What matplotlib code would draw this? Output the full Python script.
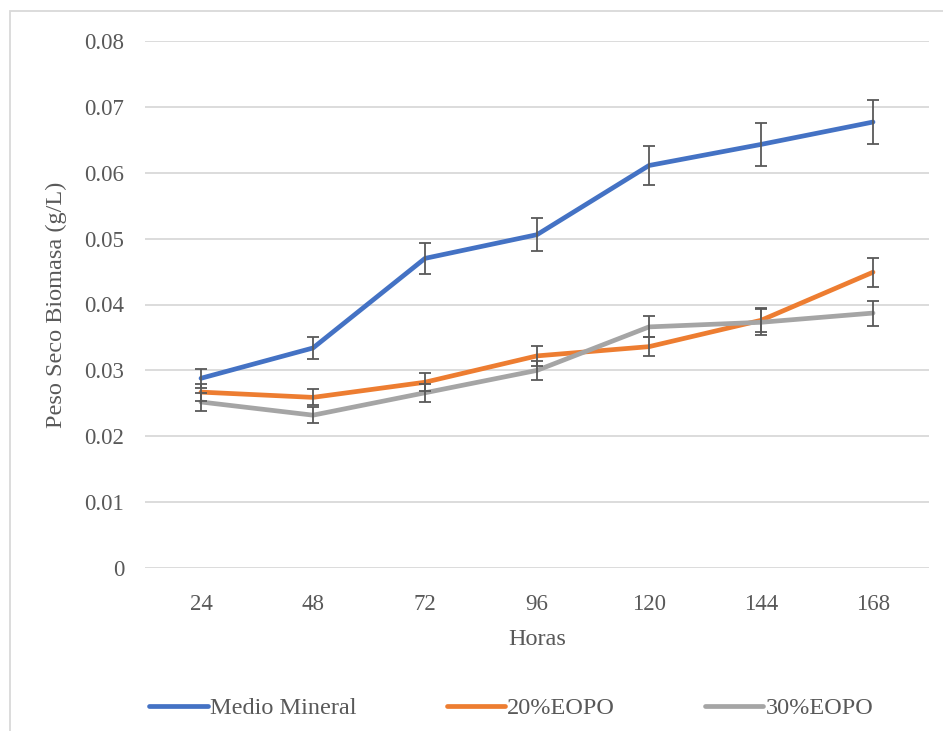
import matplotlib
matplotlib.use("Agg")
import matplotlib.pyplot as plt
from matplotlib.patches import Rectangle

plt.rcParams['font.family'] = ['Liberation Serif', 'DejaVu Serif']

horas = ["24", "48", "72", "96", "120", "144", "168"]

medio_mineral = [0.0288, 0.0334, 0.0470, 0.0506, 0.0611, 0.0643, 0.0677]
medio_mineral_err = [0.0014, 0.0016, 0.0023, 0.0025, 0.0030, 0.0033, 0.0033]

eopo20 = [0.0267, 0.0259, 0.0282, 0.0322, 0.0336, 0.0376, 0.0449]
eopo20_err = [0.0013, 0.0012, 0.0014, 0.0015, 0.0014, 0.0018, 0.0022]

eopo30 = [0.0252, 0.0232, 0.0266, 0.0300, 0.0366, 0.0373, 0.0387]
eopo30_err = [0.0013, 0.0012, 0.0014, 0.0014, 0.0016, 0.0020, 0.0019]

series = [
    ("Medio Mineral", medio_mineral, medio_mineral_err, "#4472c4"),
    ("20%EOPO", eopo20, eopo20_err, "#ed7d31"),
    ("30%EOPO", eopo30, eopo30_err, "#a5a5a5"),
]

txt = "#595959"
grid = "#d9d9d9"

fig = plt.figure(figsize=(9.43, 7.31), dpi=100)
ax = fig.add_axes([145 / 943, 1 - 568 / 731, (929 - 145) / 943, (568 - 41) / 731])

x = list(range(len(horas)))
handles = []
for name, vals, err, col in series:
    ln, = ax.plot(x, vals, color=col, lw=3.4, solid_capstyle='round', zorder=3, label=name)
    handles.append(ln)
for name, vals, err, col in series:
    ax.errorbar(x, vals, yerr=err, fmt='none', ecolor=txt, elinewidth=1.3,
                capsize=4.3, capthick=1.3, zorder=4)

ax.set_xlim(-0.5, len(horas) - 0.5)
ax.set_ylim(0, 0.08)
ax.set_yticks([i / 100 for i in range(9)])
ax.set_yticklabels(["0"] + ["%.2f" % (i / 100) for i in range(1, 9)])
ax.set_xticks(x)
ax.set_xticklabels(horas)
ax.tick_params(length=0, labelsize=16.5, colors=txt)
ax.tick_params(axis='y', pad=15)
ax.tick_params(axis='x', pad=19)
ax.grid(axis='y', color=grid, lw=1.3)
ax.set_axisbelow(True)
for s in ax.spines.values():
    s.set_visible(False)

ax.set_xlabel("Horas", fontsize=17.5, color=txt, labelpad=10)
ax.set_ylabel("Peso Seco Biomasa (g/L)", fontsize=17.5, color=txt, labelpad=12)

fig.legend(handles=handles, loc='center', bbox_to_anchor=(511.5 / 943, 1 - 708 / 731),
           ncol=3, frameon=False, fontsize=17.5, handlelength=2.4, handletextpad=0.1,
           columnspacing=3.7, labelcolor=txt)

# chart area border (only left and top edges fall inside the canvas)
fig.add_artist(Rectangle((9.5 / 943, -0.2), 2, 1 - 11 / 731 + 0.2, transform=fig.transFigure,
                         fill=False, edgecolor=grid, lw=1.3))

fig.savefig("out.png", dpi=100)
